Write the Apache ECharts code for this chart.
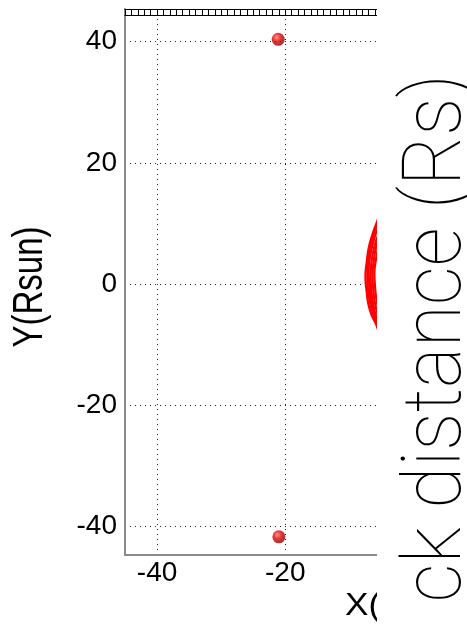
<!DOCTYPE html>
<html>
<head>
<meta charset="utf-8">
<script src="https://cdn.jsdelivr.net/npm/echarts@6/dist/echarts.min.js"></script>
<style>html,body{margin:0;padding:0;background:#fff;}#c{width:467px;height:629px;}</style>
</head>
<body>
<div id="c"></div>
<script>
// ---- data ----
var xRange = [-45, 0];
var yRange = [-44.7, 45.4];
var pointsX = [-21.1, -21.0];
var pointsY = [40.4, -41.7];
var frontA = [[-5.3,11.4],[-5.8,10.0],[-6.5,7.9],[-7.0,5.9],[-7.3,3.6],[-7.5,1.2],[-7.3,-1.3],[-7.0,-3.5],[-6.5,-5.2],[-5.8,-6.7],[-5.3,-8.4]];
var frontB = [[-5.3,10.6],[-5.8,9.5],[-6.4,7.5],[-6.8,5.5],[-7.1,3.4],[-7.2,1.4],[-7.1,-0.9],[-6.8,-3.0],[-6.3,-4.9],[-5.7,-6.5],[-5.2,-8.0]];
var frontC = [[-5.4,9.6],[-5.9,8.3],[-6.4,6.4],[-6.8,4.4],[-7.0,2.2],[-6.9,0.0],[-6.7,-2.2],[-6.3,-4.3],[-5.8,-6.0],[-5.3,-7.4]];
var frontD = [[-5.3,8.6],[-5.8,7.3],[-6.3,5.3],[-6.6,3.2],[-6.7,1.2],[-6.6,-1.0],[-6.3,-3.2],[-5.9,-5.1],[-5.4,-6.6]];
var frontE = [[-5.4,7.6],[-5.9,5.8],[-6.2,3.8],[-6.4,1.6],[-6.3,-0.6],[-6.1,-2.6],[-5.7,-4.6],[-5.3,-6.0]];
var frontF = [[-5.5,6.0],[-5.9,3.8],[-6.1,1.8],[-6.0,-0.4],[-5.8,-2.4],[-5.4,-4.4]];
var fronts = [frontA, frontB, frontC, frontD, frontE, frontF];
var xTitle = 'X(Rsun)';
var yTitle = 'Y(Rsun)';
var sideText = 'ck distance (Rs)';

var chart = echarts.init(document.getElementById('c'), null, {renderer: 'canvas'});
var gridLine = {show: true, lineStyle: {color: '#222', type: [1, 4], width: 1}};
var axisColor = '#8a8a8a';
var labelFont = {color: '#000', fontSize: 28, fontFamily: 'Liberation Sans'};

var series = [];
fronts.forEach(function (f) {
  series.push({
    type: 'line', data: f, smooth: true, showSymbol: false, clip: true,
    lineStyle: {color: '#ff0000', width: 2.2}, z: 3, silent: true
  });
});
series.push({
  type: 'scatter',
  data: pointsX.map(function (x, i) { return [x, pointsY[i]]; }),
  symbolSize: 13,
  itemStyle: {
    color: {type: 'radial', x: 0.38, y: 0.35, r: 0.65,
      colorStops: [{offset: 0, color: '#ff7070'}, {offset: 0.5, color: '#e00000'}, {offset: 1, color: '#900000'}]}
  },
  z: 4
});

chart.setOption({
  animation: false,
  grid: {left: 125, top: 9, right: 53.5, bottom: 74, containLabel: false},
  xAxis: [{
    type: 'value', min: xRange[0], max: xRange[1], splitNumber: 2, position: 'bottom',
    axisLine: {show: true, onZero: false, lineStyle: {color: axisColor, width: 2}},
    axisTick: {show: false},
    axisLabel: Object.assign({showMinLabel: false, margin: 4}, labelFont),
    splitLine: gridLine
  }, {
    type: 'value', min: xRange[0], max: xRange[1], interval: 1, position: 'top',
    axisLine: {show: true, onZero: false, lineStyle: {color: '#000', width: 1}},
    axisTick: {show: true, inside: true, length: 6, lineStyle: {color: '#000', width: 1}},
    axisLabel: {show: false}, splitLine: {show: false}
  }, {
    type: 'value', min: xRange[0], max: xRange[1], position: 'top', offset: -6,
    axisLine: {show: true, onZero: false, lineStyle: {color: '#000', width: 1}},
    axisTick: {show: false}, axisLabel: {show: false}, splitLine: {show: false}
  }],
  yAxis: {
    type: 'value', min: yRange[0], max: yRange[1],
    axisLine: {show: true, onZero: false, lineStyle: {color: axisColor, width: 2}},
    axisTick: {show: false},
    axisLabel: Object.assign({showMinLabel: false, showMaxLabel: false, margin: 8}, labelFont),
    splitLine: gridLine
  },
  series: series,
  graphic: [
    {type: 'text', x: 345, y: 606, z: 50,
      style: {text: xTitle, font: '32px "Liberation Sans"', fill: '#000', align: 'left', verticalAlign: 'middle'}, scaleX: 1.1},
    {type: 'text', x: 30, y: 287, z: 50, rotation: Math.PI / 2, scaleY: 1.3,
      style: {text: yTitle, font: '33px "Liberation Sans"', fill: '#000', align: 'center', verticalAlign: 'middle'}},
    {type: 'rect', z: 100, shape: {x: 377, y: 0, width: 90, height: 629}, style: {fill: '#fff'}},
    {type: 'text', x: 480, y: 74, z: 110, rotation: Math.PI / 2, scaleY: 1.06,
      style: {text: sideText, font: '100 77px Roboto', fill: '#000', align: 'right', verticalAlign: 'bottom'}}
  ]
});
</script>
</body>
</html>
